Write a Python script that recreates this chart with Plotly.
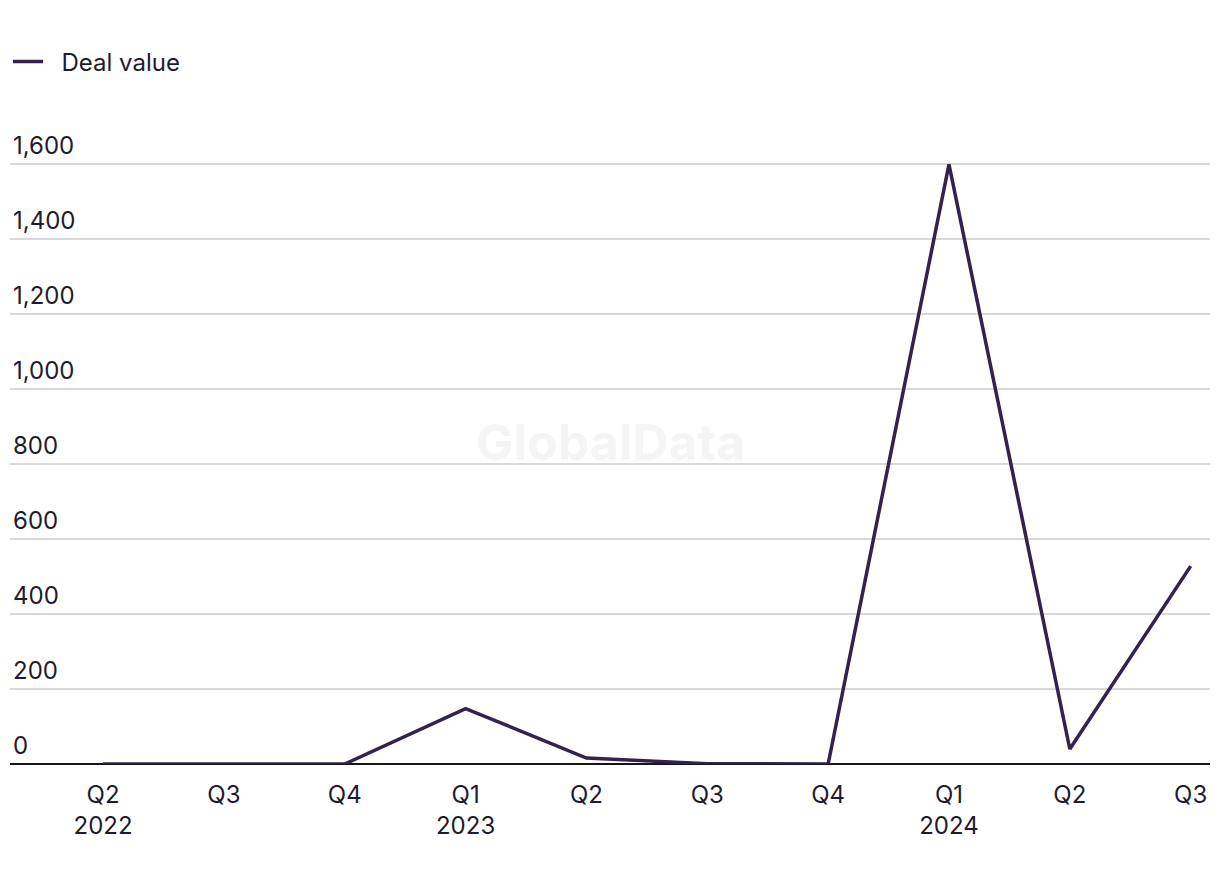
import plotly.graph_objects as go

quarters = ["Q2<br>2022", "Q3", "Q4", "Q1<br>2023", "Q2", "Q3", "Q4", "Q1<br>2024", "Q2", "Q3"]
quarter_ids = ["2022Q2", "2022Q3", "2022Q4", "2023Q1", "2023Q2", "2023Q3", "2023Q4", "2024Q1", "2024Q2", "2024Q3"]
deal_value = [0, 0, 0, 148, 16, 1, 0, 1600, 40, 528]
y_ticks = [0, 200, 400, 600, 800, 1000, 1200, 1400, 1600]

LINE = "#33214f"
TXT = "#1e1b2e"
FONT = "Inter"

W, H = 1212, 876  # page body has an 8px margin

fig = go.Figure()
fig.add_trace(go.Scatter(
    x=list(range(len(quarter_ids))), y=deal_value, mode="lines",
    name="\u00a0\u00a0Deal value",
    line=dict(color=LINE, width=3.5), cliponaxis=False,
))

fig.update_layout(
    width=W, height=H,
    margin=dict(l=2, r=10, t=118.5, b=120),
    paper_bgcolor="white", plot_bgcolor="white",
    font=dict(family=FONT, size=24, color=TXT),
    showlegend=True,
    legend=dict(orientation="h", x=-4 / W, xanchor="left", y=1 - 54 / H, yanchor="middle",
                xref="container", yref="container", font=dict(size=24, color=TXT),
                itemwidth=30),
    xaxis=dict(
        tickmode="array", tickvals=list(range(len(quarters))), ticktext=quarters,
        range=[-0.77, 9.16], showgrid=False, zeroline=False, showline=False,
        ticks="", tickfont=dict(size=24, color=TXT), ticklabelstandoff=14,
    ),
    yaxis=dict(
        range=[0, 1700], tickmode="array", tickvals=y_ticks,
        ticktext=[f"{v:,}" for v in y_ticks],
        ticklabelposition="inside top", showgrid=True, gridcolor="#d9d9d9", gridwidth=1.5,
        zeroline=True, zerolinecolor="#15131f", zerolinewidth=2, showline=False,
        tickfont=dict(size=24, color=TXT), ticks="", ticklabelshift=-2,
    ),
    annotations=[dict(
        text="<b>GlobalData</b>", x=0.5, y=859, xref="paper", yref="y",
        xanchor="center", yanchor="middle", showarrow=False,
        font=dict(size=50, color="#f5f5f5", family=FONT),
    )],
)

fig.write_html("out.html")
